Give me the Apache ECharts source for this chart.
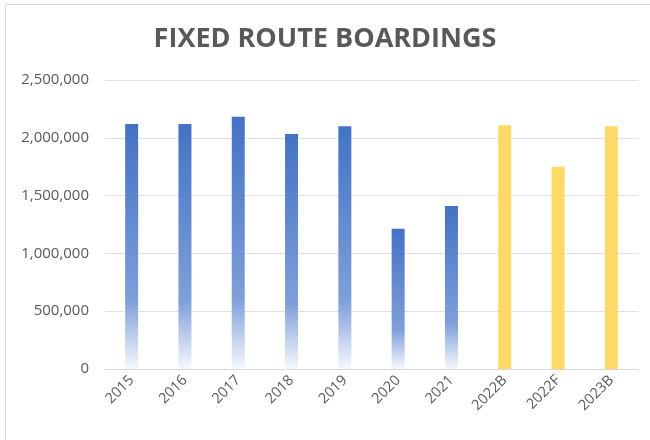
<!DOCTYPE html>
<html>
<head>
    <meta charset="utf-8">
    <title>chart</title>
    <style>
        html, body { margin: 0; padding: 0; background: #fff; }
        #chart { width: 650px; height: 440px; }
    </style>
    <script src="https://cdn.jsdelivr.net/npm/echarts@6/dist/echarts.min.js"></script>
</head>
<body>
<div id="chart"></div>
<script>
    // data
    const years = ['2015', '2016', '2017', '2018', '2019', '2020', '2021', '2022B', '2022F', '2023B'];
    const boardings = [2120000, 2120000, 2183000, 2033000, 2100000, 1214000, 1410000, 2108000, 1750000, 2100000];
    const isProjection = [false, false, false, false, false, false, false, true, true, true];
    const yTicks = [0, 500000, 1000000, 1500000, 2000000, 2500000];

    const blueFade = new echarts.graphic.LinearGradient(0, 0, 0, 1, [
        {offset: 0, color: '#4472C4'},
        {offset: 0.72, color: '#7E9FDA'},
        {offset: 1, color: '#F6F8FD'}
    ]);

    const font = '"Open Sans", sans-serif';

    echarts.init(document.getElementById('chart')).setOption({
        animation: false,
        title: {
            text: 'FIXED ROUTE BOARDINGS',
            left: 'center',
            top: 21,
            textStyle: {
                color: '#595959',
                fontSize: 27,
                fontWeight: 'bold',
                fontFamily: font
            }
        },
        graphic: [{
            type: 'rect',
            shape: {x: 5.5, y: 4.5, width: 700, height: 500},
            style: {fill: 'none', stroke: '#d9d9d9', lineWidth: 1},
            silent: true
        }],
        grid: {left: 105, right: 12, top: 80, bottom: 71},
        xAxis: {
            type: 'category',
            data: years,
            axisTick: {show: false},
            axisLine: {lineStyle: {color: '#d9d9d9'}},
            axisLabel: {
                rotate: 45,
                margin: 9,
                color: '#595959',
                fontSize: 14.5,
                fontFamily: font
            }
        },
        yAxis: {
            type: 'value',
            min: yTicks[0],
            max: yTicks[yTicks.length - 1],
            interval: yTicks[1] - yTicks[0],
            axisLine: {show: false},
            axisTick: {show: false},
            splitLine: {lineStyle: {color: '#e0e0e0'}},
            axisLabel: {
                margin: 16,
                color: '#595959',
                fontSize: 15,
                fontFamily: font,
                formatter: v => v.toLocaleString('en-US')
            }
        },
        series: [{
            type: 'bar',
            barWidth: 13,
            data: boardings.map((v, i) => ({
                value: v,
                itemStyle: {color: isProjection[i] ? '#FFD966' : blueFade}
            }))
        }]
    });
</script>
</body>
</html>
